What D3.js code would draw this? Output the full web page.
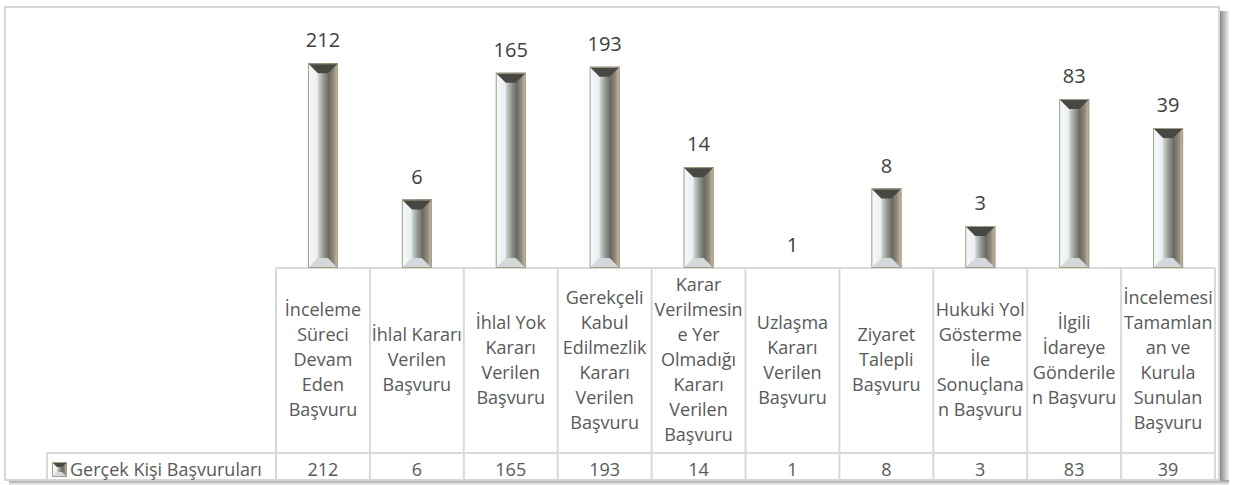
<!DOCTYPE html>
<html>
<head>
<meta charset="utf-8">
<script src="https://cdn.jsdelivr.net/npm/d3@7"></script>
<style>
  body { margin: 0; background: #fff; }
  text { font-family: "Open Sans", sans-serif; }
</style>
</head>
<body>
<svg id="chart" width="1236" height="485"></svg>
<script>
const categories = [
  "İnceleme Süreci Devam Eden Başvuru",
  "İhlal Kararı Verilen Başvuru",
  "İhlal Yok Kararı Verilen Başvuru",
  "Gerekçeli Kabul Edilmezlik Kararı Verilen Başvuru",
  "Karar Verilmesine Yer Olmadığı Kararı Verilen Başvuru",
  "Uzlaşma Kararı Verilen Başvuru",
  "Ziyaret Talepli Başvuru",
  "Hukuki Yol Gösterme İle Sonuçlanan Başvuru",
  "İlgili İdareye Gönderilen Başvuru",
  "İncelemesi Tamamlanan ve Kurula Sunulan Başvuru"
];
// wrapped the way the original table cell breaks them
const categoryLines = [
  ["İnceleme", "Süreci", "Devam", "Eden", "Başvuru"],
  ["İhlal Kararı", "Verilen", "Başvuru"],
  ["İhlal Yok", "Kararı", "Verilen", "Başvuru"],
  ["Gerekçeli", "Kabul", "Edilmezlik", "Kararı", "Verilen", "Başvuru"],
  ["Karar", "Verilmesin", "e Yer", "Olmadığı", "Kararı", "Verilen", "Başvuru"],
  ["Uzlaşma", "Kararı", "Verilen", "Başvuru"],
  ["Ziyaret", "Talepli", "Başvuru"],
  ["Hukuki Yol", "Gösterme", "İle", "Sonuçlana", "n Başvuru"],
  ["İlgili", "İdareye", "Gönderile", "n Başvuru"],
  ["İncelemesi", "Tamamlan", "an ve", "Kurula", "Sunulan", "Başvuru"]
];
const seriesName = "Gerçek Kişi Başvuruları";
const values = [212, 6, 165, 193, 14, 1, 8, 3, 83, 39];

const svg = d3.select("#chart");
const defs = svg.append("defs");

const tableLeft = 276, tableRight = 1215;
const baseY = 268, rowY = 453, bottomY = 480;

let x = d3.scaleBand()
  .domain(categories)
  .range([tableLeft, tableRight])
  .padding(0);

let y = d3.scaleLog()
  .domain([1, 1000])
  .range([baseY, baseY - 264]);

// gradients
function grad(id, stops, x2, y2) {
  let g = defs.append("linearGradient").attr("id", id)
    .attr("x1", 0).attr("y1", 0).attr("x2", x2).attr("y2", y2);
  stops.forEach(s => g.append("stop").attr("offset", s[0]).attr("stop-color", s[1]));
}
grad("face", [["0%", "#eef3f4"], ["30%", "#dce3e5"], ["55%", "#8d8e88"], ["75%", "#62635d"], ["100%", "#5c5d57"]], 1, 0);
grad("leftBevel", [["0%", "#f8fafb"], ["100%", "#e8eef0"]], 1, 0);
grad("rightBevel", [["0%", "#66655e"], ["55%", "#8f897a"], ["100%", "#cdc2a9"]], 1, 0);
grad("shadowR", [["0%", "#8a8a8a"], ["100%", "#f0f0f0"]], 1, 0);
grad("shadowB", [["0%", "#9a9a9a"], ["100%", "#f2f2f2"]], 0, 1);

// frame with soft shadow
svg.append("rect").attr("x", 1220).attr("y", 11).attr("width", 9).attr("height", 472).attr("fill", "url(#shadowR)");
svg.append("rect").attr("x", 9).attr("y", 480).attr("width", 1220).attr("height", 5).attr("fill", "url(#shadowB)");
svg.append("rect")
  .attr("x", 5).attr("y", 7).attr("width", 1214).attr("height", 473)
  .attr("fill", "#fff").attr("stroke", "#d6d6d6").attr("stroke-width", 2);

// table grid
const grid = svg.append("g").attr("stroke", "#d9d9d9").attr("stroke-width", 2);
grid.append("line").attr("x1", tableLeft).attr("x2", tableRight).attr("y1", baseY).attr("y2", baseY);
grid.append("line").attr("x1", 47).attr("x2", tableRight).attr("y1", rowY).attr("y2", rowY);
grid.append("line").attr("x1", 47).attr("x2", 47).attr("y1", rowY).attr("y2", bottomY);
grid.selectAll(".v")
  .data(categories.concat(["end"]))
  .join("line")
  .attr("x1", (d, i) => tableLeft + i * x.bandwidth())
  .attr("x2", (d, i) => tableLeft + i * x.bandwidth())
  .attr("y1", baseY).attr("y2", bottomY);

// bevelled bars
const barW = 30;
function bevelBar(g, bx, top, bot, w, b) {
  let h = bot - top;
  if (h <= 0) return;
  b = Math.min(b, h / 2, w / 2);
  g.append("rect").attr("x", bx).attr("y", top).attr("width", w).attr("height", h).attr("fill", "url(#face)");
  g.append("polygon").attr("points", [[bx, top], [bx + b, top + b], [bx + b, bot - b], [bx, bot]].join(" "))
    .attr("fill", "url(#leftBevel)");
  g.append("polygon").attr("points", [[bx + w, top], [bx + w - b, top + b], [bx + w - b, bot - b], [bx + w, bot]].join(" "))
    .attr("fill", "url(#rightBevel)");
  g.append("polygon").attr("points", [[bx, top], [bx + w, top], [bx + w - b, top + b], [bx + b, top + b]].join(" "))
    .attr("fill", "#474842");
  g.append("polygon").attr("points", [[bx, bot], [bx + b, bot - b], [bx + w - b, bot - b], [bx + w, bot]].join(" "))
    .attr("fill", "#d3d9db");
  g.append("rect").attr("x", bx + 0.5).attr("y", top + 0.5).attr("width", w - 1).attr("height", h - 1)
    .attr("fill", "none").attr("stroke", "#a99d86").attr("stroke-width", 1);
}

const bars = svg.append("g");
values.forEach((v, i) => {
  let cx = x(categories[i]) + x.bandwidth() / 2;
  bevelBar(bars.append("g"), cx - barW / 2, y(v), baseY, barW, 10);
});

// data labels
svg.append("g").selectAll("text")
  .data(values)
  .join("text")
  .attr("x", (d, i) => x(categories[i]) + x.bandwidth() / 2)
  .attr("y", d => y(d) - 16)
  .attr("text-anchor", "middle")
  .attr("font-size", 20)
  .attr("fill", "#404040")
  .text(d => d);

// category labels in the table head
const lineH = 25, midY = 360;
svg.append("g").selectAll("text")
  .data(categoryLines)
  .join("text")
  .attr("x", (d, i) => x(categories[i]) + x.bandwidth() / 2)
  .attr("text-anchor", "middle")
  .attr("font-size", 18)
  .attr("fill", "#595959")
  .each(function(lines) {
    let t = d3.select(this);
    let y0 = midY - (lines.length - 1) * lineH / 2;
    lines.forEach((l, k) => {
      t.append("tspan")
        .attr("x", t.attr("x"))
        .attr("y", y0 + k * lineH)
        .attr("dy", "0.35em")
        .text(l);
    });
  });

// data row
svg.append("g").selectAll("text")
  .data(values)
  .join("text")
  .attr("x", (d, i) => x(categories[i]) + x.bandwidth() / 2)
  .attr("y", 470)
  .attr("dy", "0.35em")
  .attr("text-anchor", "middle")
  .attr("font-size", 18)
  .attr("fill", "#595959")
  .text(d => d);

// legend key + series name
bevelBar(svg.append("g"), 52, 462, 477, 15, 5);
svg.append("text")
  .attr("x", 70).attr("y", 470).attr("dy", "0.35em")
  .attr("font-size", 18)
  .attr("fill", "#595959")
  .text(seriesName);
</script>
</body>
</html>
